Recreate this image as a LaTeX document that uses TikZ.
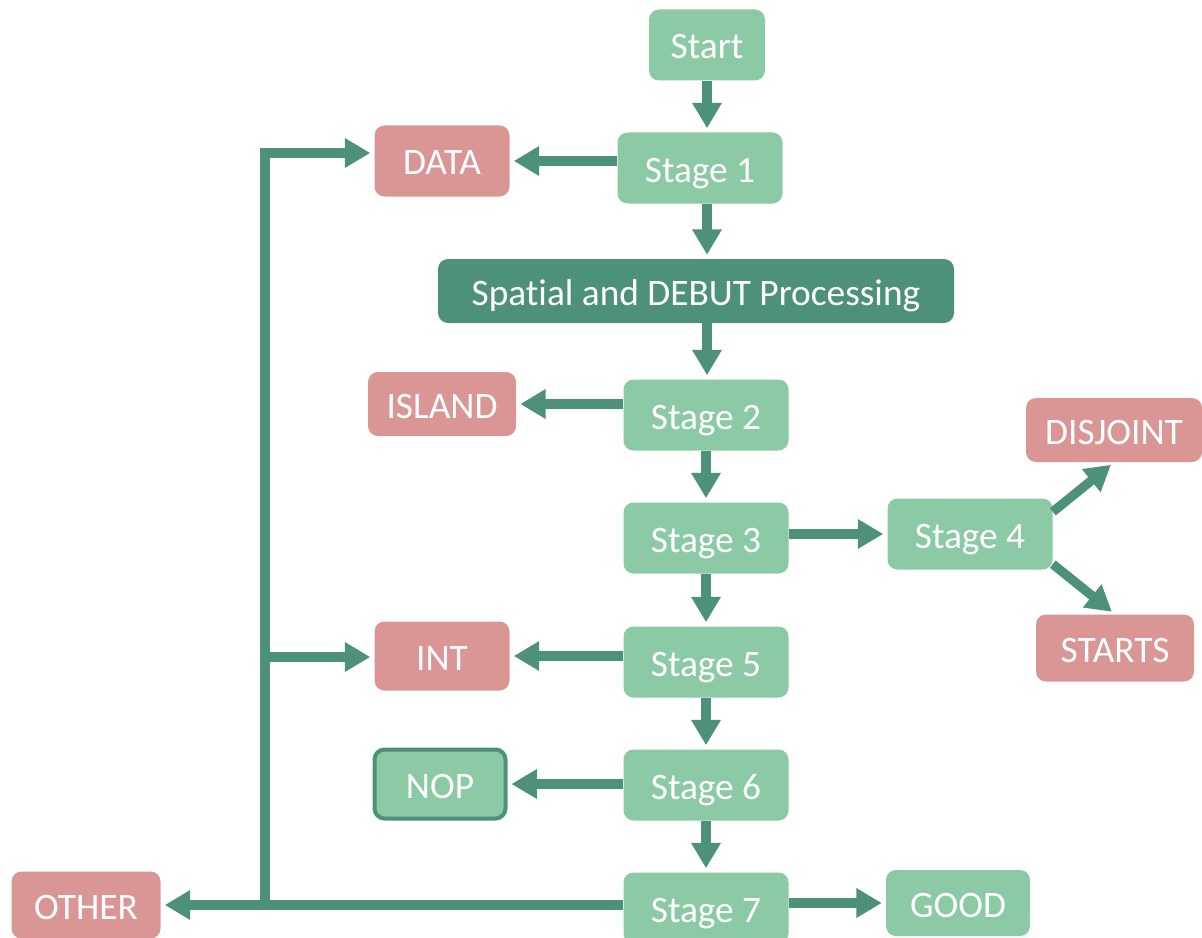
\documentclass[tikz,border=0pt]{standalone}
\usepackage{fontspec}
\setmainfont[Ligatures=NoCommon]{Carlito}
\usetikzlibrary{arrows.meta}
\definecolor{leaf}{HTML}{8BCAA5}
\definecolor{pine}{HTML}{4E9179}
\definecolor{rose}{HTML}{DA9694}
\tikzset{
  box/.style 2 args={rounded corners=7.5pt, inner sep=0pt, text=white,
    minimum width=#1*0.75pt, minimum height=#2*0.75pt,
    text height=21pt, text depth=0pt,
    font=\fontsize{28}{33}\selectfont},
  stagebox/.style={box={#1}{71}, fill=leaf},
  stagebox/.default=165,
  endbox/.style 2 args={box={#1}{#2}, fill=rose},
  flow/.style={draw=pine, line width=7pt, line join=miter,
    -{Triangle[length=19pt,width=21pt]}, shorten >=3pt},
}
\begin{document}
\begin{tikzpicture}[x=0.75pt, y=-0.75pt]
\useasboundingbox (0,0) rectangle (1202,938);

% main column
\node[box={116}{71}, fill=leaf] (Start) at (707,45) {Start};
\node[stagebox] (S1) at (700,168) {Stage 1};
\node[box={516}{64}, fill=pine] (Spatial) at (696,291) {Spatial and DEBUT Processing};
\node[stagebox] (S2) at (706,415) {Stage 2};
\node[stagebox] (S3) at (706,538) {Stage 3};
\node[stagebox] (S4) at (970,534) {Stage 4};
\node[stagebox] (S5) at (706,662) {Stage 5};
\node[stagebox] (S6) at (706,785) {Stage 6};
\node[stagebox] (S7) at (706,908) {Stage 7};

% outcomes
\node[endbox={135}{71}] (DATA) at (442,161) {DATA};
\node[endbox={148}{64}] (ISLAND) at (442,404) {ISLAND};
\node[endbox={176}{64}] (DISJOINT) at (1114,430) {DISJOINT};
\node[endbox={158}{67}] (STARTS) at (1115,648) {STARTS};
\node[endbox={135}{69}] (INT) at (442,656) {INT};
\node[box={131}{69}, fill=leaf, draw=pine, line width=3pt] (NOP) at (440,784) {NOP};
\node[box={144}{66}, fill=leaf] (GOOD) at (958,903) {GOOD};
\node[endbox={149}{67}] (OTHER) at (86,905) {OTHER};

% trunk on the left
\coordinate (tbot) at (265,905);
\coordinate (ttop) at (265,153);
\coordinate (tint) at (265,657);

% vertical flow
\draw[flow] (Start.south) -- (Start.south |- S1.north);
\draw[flow] (Start.south |- S1.south) -- (Start.south |- Spatial.north);
\draw[flow] (Start.south |- Spatial.south) -- (Start.south |- S2.north);
\draw[flow] (S2.south) -- (S3.north);
\draw[flow] (S3.south) -- (S5.north);
\draw[flow] (S5.south) -- (S6.north);
\draw[flow] (S6.south) -- (S7.north);

% side branches
\draw[flow] (S1.west |- DATA) -- (DATA.east);
\draw[flow] (S2.west |- ISLAND) -- (ISLAND.east);
\draw[flow] (S3.east |- S4) -- (S4.west);
\draw[flow] (S4.15) -- (DISJOINT.south);
\draw[flow] (S4.-20) -- (STARTS.north);
\draw[flow] (S5.west |- INT) -- (INT.east);
\draw[flow] (S6.west |- NOP) -- (NOP.east);
\draw[flow] (S7.east |- GOOD) -- (GOOD.west);
\draw[flow] (S7.west |- tbot) -- (OTHER.east |- tbot);
\draw[flow] (tbot) |- (DATA.west |- ttop);
\draw[flow] (tint) -- (INT.west |- tint);
\end{tikzpicture}
\end{document}
